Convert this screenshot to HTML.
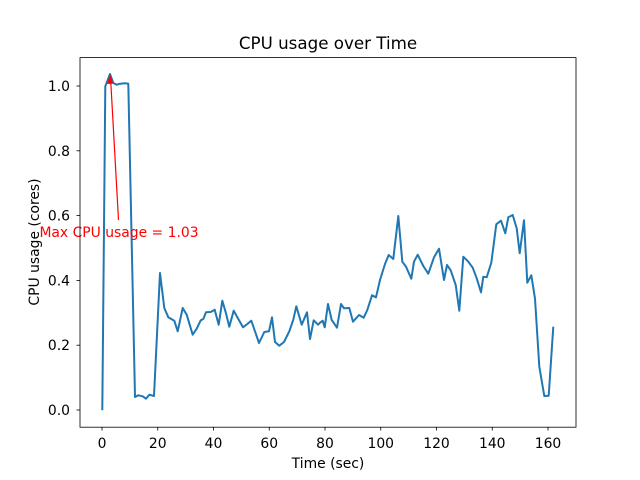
<!DOCTYPE html>
<html><head><style>body{margin:0;background:#fff}svg{display:block}text{font-family:"DejaVu Sans","Liberation Sans",sans-serif}</style></head><body>
<svg width="640" height="480" viewBox="0 0 640 480" xmlns="http://www.w3.org/2000/svg">
<rect width="640" height="480" fill="#fff"/>
<text x="328" y="49" font-size="16.7" text-anchor="middle">CPU usage over Time</text>
<polyline fill="none" stroke="#1f77b4" stroke-width="2" stroke-linejoin="round" points="102.3,410.3 105.3,86.3 110,74 113.3,83 116.7,84.7 120,83.7 125,83.3 128.3,83.7 135,397 138.3,395.3 142.7,396.3 146,398.7 149.3,394.7 154,396 160,273 164.3,308 168.3,317.3 174.3,320.7 177.7,331.3 182.7,308 186.7,314.7 192.7,334.7 196.7,328.7 200.7,320.3 203.3,319 206,312.3 210.7,312 214.7,309.7 218.7,324.7 222.3,300.7 225.7,312.3 229.3,326.7 233.7,310.7 238.3,319 243,327.3 247.3,324 251.3,320.7 255,331.3 259,343 264.3,332 269,331.3 272,317.3 275,342 279.3,345.7 284,342 289.3,331.3 293.3,319.7 296.3,306.3 301.7,324.7 307,312.3 310,339 313.7,320.3 318,324.7 320,322.7 322.7,320.7 324.7,327.3 328,304 331.7,320 337,327.7 341,304 344,308.3 349.3,308 353,321.7 359,315 363.7,317.7 367.3,310 372,295.3 376,297.3 380,280 385,264 388.7,255 393.3,259 398.3,216 402.3,261.7 406,266.7 411.3,278.7 414,261.7 417.7,254.7 423.3,266 428.3,273.7 434,257.3 439,248.7 444,280 447,265 450.7,270.3 455.7,285 459.3,310.7 463.3,256.7 468.3,261.7 472.7,267.7 476.7,278.3 481,292.3 483.3,276.7 486.7,277.3 491.3,262.7 496.3,224.3 501,220.7 505.3,233.3 508.3,217.3 512.7,215 516.7,228.3 519.7,253.3 524,220.3 527.3,282.7 531.3,275.3 535,298.7 539.3,366.7 544.3,396 548.7,395.7 553.3,326.7"/>
<line x1="118.5" y1="220" x2="110.5" y2="77" stroke="red" stroke-width="1.2"/>
<polygon points="110,74 107.2,84 113.2,83.6" fill="red"/>
<text x="119" y="237" font-size="13.9" fill="red" text-anchor="middle">Max CPU usage = 1.03</text>
<rect x="80" y="57.6" width="496" height="369.6" fill="none" stroke="#000" stroke-width="0.8"/>
<g stroke="#000" stroke-width="0.8">
<line x1="102" y1="427" x2="102" y2="430.5"/><line x1="157.75" y1="427" x2="157.75" y2="430.5"/><line x1="213.5" y1="427" x2="213.5" y2="430.5"/><line x1="269.25" y1="427" x2="269.25" y2="430.5"/><line x1="325" y1="427" x2="325" y2="430.5"/><line x1="380.75" y1="427" x2="380.75" y2="430.5"/><line x1="436.5" y1="427" x2="436.5" y2="430.5"/><line x1="492.25" y1="427" x2="492.25" y2="430.5"/><line x1="548" y1="427" x2="548" y2="430.5"/>
<line x1="76.5" y1="410" x2="80" y2="410"/><line x1="76.5" y1="345.2" x2="80" y2="345.2"/><line x1="76.5" y1="280.4" x2="80" y2="280.4"/><line x1="76.5" y1="215.6" x2="80" y2="215.6"/><line x1="76.5" y1="150.8" x2="80" y2="150.8"/><line x1="76.5" y1="86" x2="80" y2="86"/>
</g>
<g font-size="13.9" text-anchor="middle">
<text x="102" y="448">0</text><text x="157.75" y="448">20</text><text x="213.5" y="448">40</text><text x="269.25" y="448">60</text><text x="325" y="448">80</text><text x="380.75" y="448">100</text><text x="436.5" y="448">120</text><text x="492.25" y="448">140</text><text x="548" y="448">160</text>
</g>
<g font-size="13.9" text-anchor="end">
<text x="70" y="415">0.0</text><text x="70" y="350">0.2</text><text x="70" y="285.5">0.4</text><text x="70" y="220.5">0.6</text><text x="70" y="156">0.8</text><text x="70" y="91">1.0</text>
</g>
<text x="328" y="468" font-size="13.9" text-anchor="middle">Time (sec)</text>
<text x="39" y="242" font-size="13.9" text-anchor="middle" transform="rotate(-90 39 242)">CPU usage (cores)</text>
</svg>
</body></html>
